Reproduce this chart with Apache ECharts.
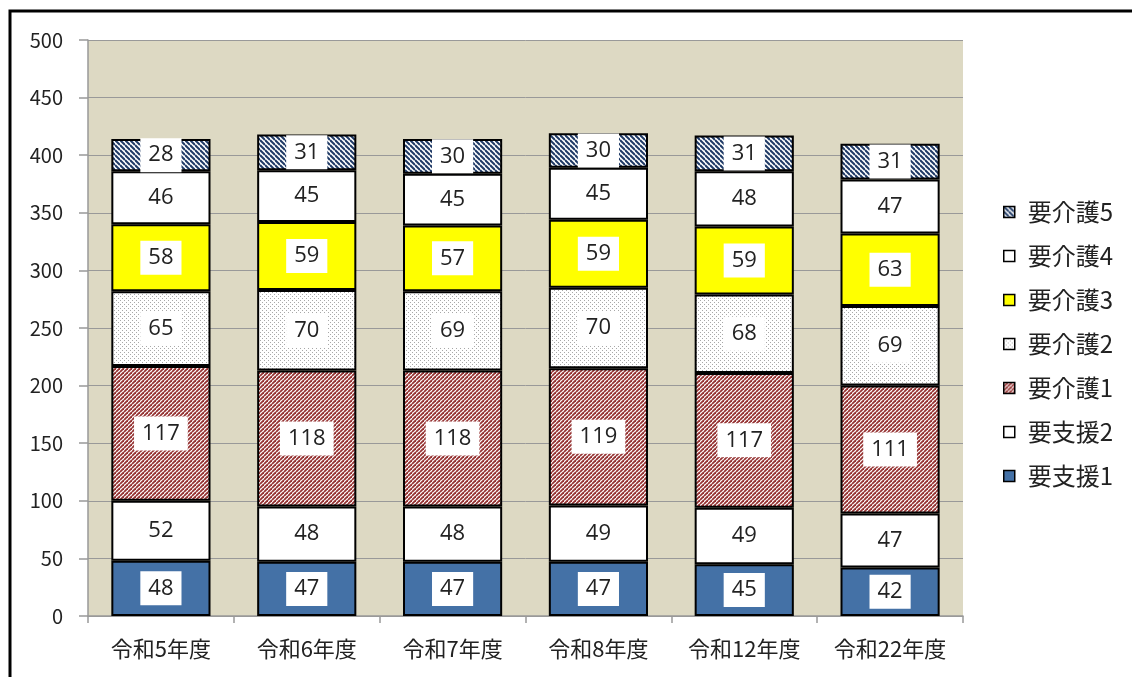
<!DOCTYPE html>
<html><head><meta charset="utf-8">
<script src="https://cdn.jsdelivr.net/npm/echarts@6/dist/echarts.min.js"></script>
<style>html,body{margin:0;padding:0;background:#fff;}#c{width:1132px;height:677px;}</style>
</head><body><div id="c"></div>
<script>
const categories = ['令和5年度','令和6年度','令和7年度','令和8年度','令和12年度','令和22年度'];
const seriesNames = ['要支援1','要支援2','要介護1','要介護2','要介護3','要介護4','要介護5'];
const shien1 = [48,47,47,47,45,42];
const shien2 = [52,48,48,49,49,47];
const kaigo1 = [117,118,118,119,117,111];
const kaigo2 = [65,70,69,70,68,69];
const kaigo3 = [58,59,57,59,59,63];
const kaigo4 = [46,45,45,45,48,47];
const kaigo5 = [28,31,30,30,31,31];
const yTicks = [0,50,100,150,200,250,300,350,400,450,500];

function stripe(size, color, width, back) {
  const c = document.createElement('canvas');
  c.width = size; c.height = size;
  const g = c.getContext('2d');
  g.fillStyle = '#fff'; g.fillRect(0,0,size,size);
  g.strokeStyle = color; g.lineWidth = width;
  for (const k of [-1,0,1,2]) {
    g.beginPath();
    if (back) { g.moveTo(0, k*size); g.lineTo(size, k*size+size); }
    else { g.moveTo(0, k*size); g.lineTo(size, k*size-size); }
    g.stroke();
  }
  return c;
}
function dots() {
  const c = document.createElement('canvas');
  c.width = 4; c.height = 4;
  const g = c.getContext('2d');
  g.fillStyle = '#fff'; g.fillRect(0,0,4,4);
  g.fillStyle = '#a8a8a8';
  g.fillRect(0,0,1,1); g.fillRect(2,2,1,1);
  return c;
}
const colors = {
  '要支援1': '#4471A6',
  '要支援2': '#ffffff',
  '要介護1': {image: stripe(4, '#953232', 1.8, false), repeat: 'repeat'},
  '要介護2': {image: dots(), repeat: 'repeat'},
  '要介護3': '#FFFF00',
  '要介護4': '#ffffff',
  '要介護5': {image: stripe(5, '#1F3A66', 2.0, true), repeat: 'repeat'}
};
const dataMap = {'要支援1':shien1,'要支援2':shien2,'要介護1':kaigo1,'要介護2':kaigo2,'要介護3':kaigo3,'要介護4':kaigo4,'要介護5':kaigo5};
const FONT = '"Noto Sans CJK JP", "Noto Sans", sans-serif';

const chart = echarts.init(document.getElementById('c'));
chart.setOption({
  animation: false,
  backgroundColor: '#fff',
  textStyle: {fontFamily: FONT},
  graphic: [{type:'rect', z: 100, silent: true, shape:{x:10,y:11,width:1400,height:900}, style:{fill:'none', stroke:'#000', lineWidth:3}}],
  grid: {left: 88, right: 169, top: 40, bottom: 61, show: true, backgroundColor: '#DDD9C3', borderWidth: 0},
  legend: {
    orient: 'vertical', left: 998, top: 195,
    data: seriesNames.slice().reverse(),
    icon: 'rect', itemWidth: 11, itemHeight: 11, itemGap: 20,
    textStyle: {fontSize: 24, color: '#222', fontFamily: FONT, padding: [0, 0, 0, 8]},
    itemStyle: {borderWidth: 1.5, borderColor: '#000'}
  },
  xAxis: {
    type: 'category', data: categories,
    axisLine: {lineStyle: {color: '#999', width: 1.5}},
    axisTick: {show: true, interval: 0, length: 7, lineStyle: {color: '#999', width: 1.5}},
    axisLabel: {interval: 0, fontSize: 22, color: '#222', margin: 22, fontFamily: FONT}
  },
  yAxis: {
    type: 'value', min: 0, max: 500, interval: 50,
    axisLine: {show: true, lineStyle: {color: '#999', width: 1.5}},
    axisTick: {show: true, length: 9, lineStyle: {color: '#999', width: 1.5}},
    splitLine: {lineStyle: {color: '#999', width: 1}},
    axisLabel: {fontSize: 20, color: '#222', margin: 25, fontFamily: FONT,
      formatter: v => yTicks.includes(v) ? String(v) : ''}
  },
  series: seriesNames.map(n => ({
    name: n, type: 'bar', stack: 'total', barWidth: '68%',
    data: dataMap[n],
    itemStyle: {color: colors[n], borderColor: '#000', borderWidth: 2},
    label: {show: true, position: 'inside', color: '#222', fontSize: 22, fontFamily: '"Open Sans", "Noto Sans", sans-serif',
      backgroundColor: '#fff', padding: [6, 8]}
  }))
});
</script></body></html>
